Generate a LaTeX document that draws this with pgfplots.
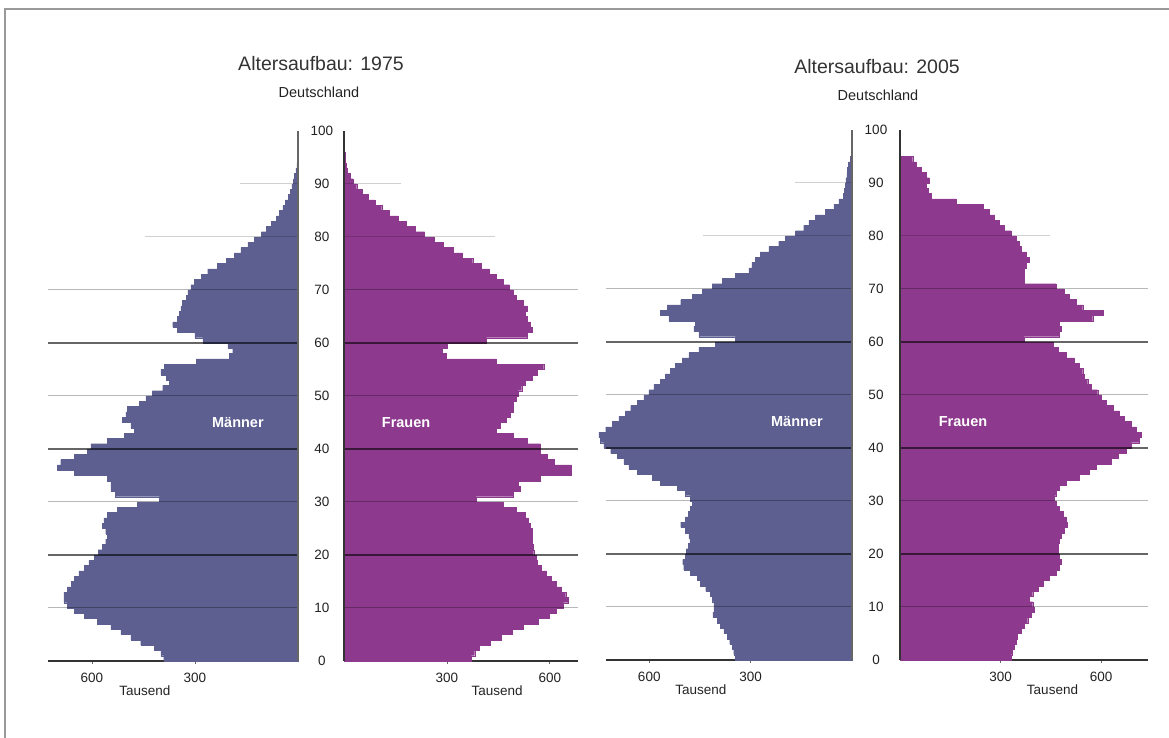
\documentclass[border=0pt]{standalone}
\usepackage{pgfplots}
\pgfplotsset{compat=1.18}
\usepackage{pgfplotstable}
\usepackage{fontspec}
\setmainfont{Liberation Sans}
\definecolor{mcol}{HTML}{5C5F8F}
\definecolor{fcol}{HTML}{8D3A8E}
\definecolor{txt}{HTML}{222222}

% age: lower edge of the one-year band; values in thousands
\pgfplotstableread{
age m75 f75 m05 f05
0 391 371 345 331
1 399 381 350 336
2 419 395 355 341
3 458 425 362 346
4 487 459 369 351
5 516 489 379 361
6 545 523 389 371
7 584 567 399 381
8 623 597 412 391
9 652 619 409 401
10 672 639 409 396
11 682 653 414 386
12 682 646 419 396
13 672 633 433 411
14 660 619 448 426
15 652 604 458 446
16 638 590 478 466
17 623 575 498 476
18 609 564 501 481
19 594 559 493 476
20 582 553 491 471
21 570 551 485 471
22 560 548 480 476
23 555 548 483 481
24 560 548 494 491
25 570 543 507 500
26 565 538 493 496
27 555 528 485 486
28 526 503 478 476
29 467 464 473 466
30 404 385 478 461
31 531 494 493 466
32 545 513 517 476
33 545 508 567 496
34 555 572 591 535
35 652 661 635 565
36 701 661 660 585
37 691 612 675 630
38 652 592 695 650
39 613 572 714 675
40 603 572 734 690
41 555 533 744 715
42 506 494 749 719
43 477 444 729 704
44 487 454 709 690
45 511 474 690 670
46 501 484 670 655
47 497 494 655 635
48 462 494 635 615
49 443 503 616 600
50 424 508 601 590
51 394 518 586 570
52 375 528 567 560
53 384 548 552 550
54 399 562 537 545
55 389 582 522 535
56 297 444 502 520
57 200 297 483 496
58 190 287 453 471
59 204 300 404 456
60 277 415 345 370
61 300 533 453 476
62 351 548 468 481
63 365 543 463 476
64 351 533 542 575
65 346 528 567 605
66 341 533 547 545
67 336 523 507 525
68 326 503 473 505
69 321 494 443 490
70 312 482 414 466
71 302 464 384 371
72 282 444 345 371
73 263 422 305 371
74 234 400 296 376
75 209 375 286 386
76 185 345 271 376
77 166 318 246 361
78 146 290 217 356
79 127 262 197 346
80 107 235 167 331
81 93 208 143 311
82 78 182 128 297
83 63 158 108 282
84 54 133 79 267
85 44 110 54 247
86 36 90 39 167
87 29 70 25 93
88 22 52 22 83
89 18 37 20 78
90 13 26 18 87
91 10 17 15 78
92 6 10 13 63
93 3 6 10 48
94 2 3 5 38
95 1 2 0 0
96 0 0 0 0
}\pyr

\newcommand{\tickfont}{\fontsize{13.5}{15}\selectfont}
\newcommand{\sexfont}{\bfseries\fontsize{14.5}{16}\selectfont}

\pgfplotsset{
  pyr/.style={
    scale only axis, height=530pt, ymin=0, ymax=100,
    axis x line=bottom, axis y line=none,
    x axis line style={-, draw=black!80, line width=1.3pt},
    xtick={300,600}, ytick=\empty,
    tick align=outside, major tick length=3pt,
    xtick style={draw=black!60, line width=0.8pt},
    xticklabel style={font=\tickfont, text=txt, yshift=-6pt},
    /pgf/number format/assume math mode=true,
    clip=false,
  },
}
\tikzset{
  darkgrid/.style={black, opacity=0.6, line width=1.1pt},
  lightgrid/.style={black, opacity=0.28, line width=1pt},
  faintgrid/.style={black, opacity=0.18, line width=1pt},
}

\begin{document}
\begin{tikzpicture}
\path[use as bounding box] (0pt,0pt) rectangle (1169pt,738pt);
\draw[black!40, line width=1.5pt] (5pt,0pt) -- (5pt,729pt) -- (1169pt,729pt);

% ---------- 1975 ----------
\node[font=\fontsize{19.5}{22}\selectfont, text=black!80] at (321pt,674pt) {Altersaufbau: 1975};
\node[font=\fontsize{14.5}{16}\selectfont, text=txt] at (319pt,646pt) {Deutschland};

\begin{axis}[pyr, at={(48pt,77pt)}, anchor=south west, width=250pt,
  xmin=0, xmax=728, x dir=reverse]
\addplot[xbar interval, fill=mcol, draw=mcol, line width=0.3pt] table[x=m75, y=age] {\pyr};
\pgfplotsinvokeforeach{20,40,60}{\draw[darkgrid] (axis cs:0,#1) -- (axis cs:728,#1);}
\pgfplotsinvokeforeach{10,30,50,70}{\draw[lightgrid] (axis cs:0,#1) -- (axis cs:728,#1);}
\draw[faintgrid] (axis cs:0,80) -- (axis cs:446,80);
\draw[faintgrid] (axis cs:0,90) -- (axis cs:169,90);
\draw[black!60, line width=1.3pt] (axis cs:0,0) -- (axis cs:0,100);
\pgfplotsinvokeforeach{0,10,...,100}{\node[font=\tickfont, text=txt] at (axis cs:0,#1) [xshift=24pt] {#1};}
\node[font=\sexfont, text=white] at (axis cs:175,45) {Männer};
\node[font=\tickfont, text=txt] at (axis cs:446,0) [yshift=-30pt] {Tausend};
\end{axis}

\begin{axis}[pyr, at={(344pt,77pt)}, anchor=south west, width=234pt,
  xmin=0, xmax=682]
\addplot[xbar interval, fill=fcol, draw=fcol, line width=0.3pt] table[x=f75, y=age] {\pyr};
\pgfplotsinvokeforeach{20,40,60}{\draw[darkgrid] (axis cs:0,#1) -- (axis cs:682,#1);}
\pgfplotsinvokeforeach{10,30,50,70}{\draw[lightgrid] (axis cs:0,#1) -- (axis cs:682,#1);}
\draw[faintgrid] (axis cs:0,80) -- (axis cs:440,80);
\draw[faintgrid] (axis cs:0,90) -- (axis cs:166,90);
\draw[black!80, line width=1.3pt] (axis cs:0,0) -- (axis cs:0,100);
\node[font=\sexfont, text=white] at (axis cs:181,45) {Frauen};
\node[font=\tickfont, text=txt] at (axis cs:446,0) [yshift=-30pt] {Tausend};
\end{axis}

% ---------- 2005 ----------
\node[font=\fontsize{19.5}{22}\selectfont, text=black!80] at (877pt,671pt) {Altersaufbau: 2005};
\node[font=\fontsize{14.5}{16}\selectfont, text=txt] at (878pt,643pt) {Deutschland};

\begin{axis}[pyr, at={(606pt,78pt)}, anchor=south west, width=246pt,
  xmin=0, xmax=728, x dir=reverse]
\addplot[xbar interval, fill=mcol, draw=mcol, line width=0.3pt] table[x=m05, y=age] {\pyr};
\pgfplotsinvokeforeach{20,40,60}{\draw[darkgrid] (axis cs:0,#1) -- (axis cs:728,#1);}
\pgfplotsinvokeforeach{10,30,50,70}{\draw[lightgrid] (axis cs:0,#1) -- (axis cs:728,#1);}
\draw[faintgrid] (axis cs:0,80) -- (axis cs:441,80);
\draw[faintgrid] (axis cs:0,90) -- (axis cs:169,90);
\draw[black!60, line width=1.3pt] (axis cs:0,0) -- (axis cs:0,100);
\pgfplotsinvokeforeach{0,10,...,100}{\node[font=\tickfont, text=txt] at (axis cs:0,#1) [xshift=24pt] {#1};}
\node[font=\sexfont, text=white] at (axis cs:163,45) {Männer};
\node[font=\tickfont, text=txt] at (axis cs:447,0) [yshift=-30pt] {Tausend};
\end{axis}

\begin{axis}[pyr, at={(900pt,78pt)}, anchor=south west, width=248pt,
  xmin=0, xmax=740]
\addplot[xbar interval, fill=fcol, draw=fcol, line width=0.3pt] table[x=f05, y=age] {\pyr};
\pgfplotsinvokeforeach{20,40,60}{\draw[darkgrid] (axis cs:0,#1) -- (axis cs:740,#1);}
\pgfplotsinvokeforeach{10,30,50,70}{\draw[lightgrid] (axis cs:0,#1) -- (axis cs:740,#1);}
\draw[faintgrid] (axis cs:0,80) -- (axis cs:448,80);
\draw[black!80, line width=1.3pt] (axis cs:0,0) -- (axis cs:0,100);
\node[font=\sexfont, text=white] at (axis cs:188,45) {Frauen};
\node[font=\tickfont, text=txt] at (axis cs:455,0) [yshift=-30pt] {Tausend};
\end{axis}
\end{tikzpicture}
\end{document}
